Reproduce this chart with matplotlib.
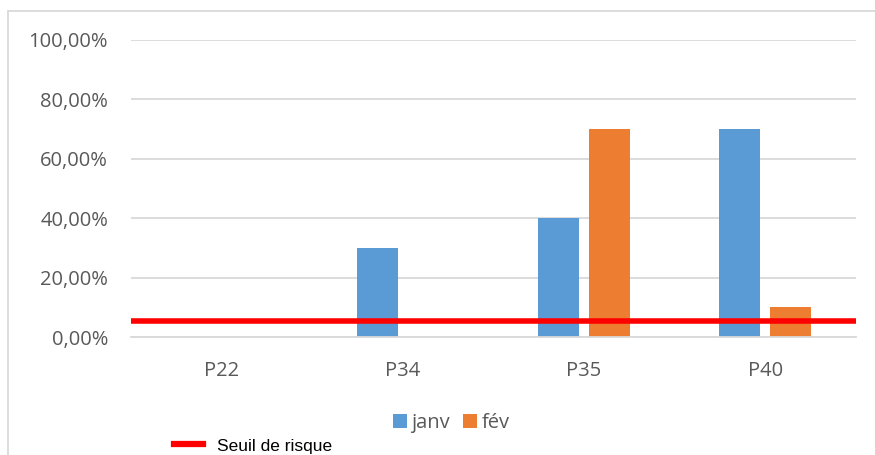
import matplotlib.pyplot as plt
import numpy as np
from matplotlib.patches import Rectangle
from matplotlib.lines import Line2D
from matplotlib.ticker import FuncFormatter

categories = ["P22", "P34", "P35", "P40"]
janv = [0.0, 0.30, 0.40, 0.70]
fev = [0.0, 0.0, 0.70, 0.10]
seuil = 0.055
yticks = [0.0, 0.2, 0.4, 0.6, 0.8, 1.0]

W, H = 875, 455
fig = plt.figure(figsize=(W / 100, H / 100), dpi=100)
plt.rcParams['font.family'] = ['Open Sans', 'DejaVu Sans']

# chart frame (cut off at right and bottom)
fig.patches.append(Rectangle((8 / W, -0.1), 2.0, 1 - 11 / H + 0.1,
                             transform=fig.transFigure, fill=False,
                             edgecolor='#d9d9d9', linewidth=1.3))

ax = fig.add_axes([131 / W, 1 - 337 / H, 725 / W, 297 / H])
x = np.arange(len(categories))
w = 0.226
off = 0.141
b1 = ax.bar(x - off, janv, w, color='#5b9bd5', label='janv')
b2 = ax.bar(x + off, fev, w, color='#ed7d31', label='fév')
ax.axhline(seuil, color='#ff0000', linewidth=4, zorder=3)

ax.set_xlim(-0.5, len(categories) - 0.5)
ax.set_ylim(0, 1)
ax.set_yticks(yticks)
ax.yaxis.set_major_formatter(FuncFormatter(lambda v, p: f"{v*100:.2f}%".replace('.', ',')))
ax.set_xticks(x)
ax.set_xticklabels(categories)
ax.grid(axis='y', color='#d9d9d9', linewidth=1.3)
ax.set_axisbelow(True)
for s in ['top', 'right', 'left']:
    ax.spines[s].set_visible(False)
ax.spines['bottom'].set_color('#d9d9d9')
ax.spines['bottom'].set_linewidth(1.3)
ax.tick_params(axis='both', length=0, labelsize=14.5, labelcolor='#595959')
ax.tick_params(axis='y', pad=16.5)
ax.tick_params(axis='x', pad=17)

fig.legend(handles=[b1, b2], loc='center', bbox_to_anchor=(451 / W, 1 - 423 / H),
           ncol=2, frameon=False, fontsize=14.5, labelcolor='#595959', borderpad=0,
           handlelength=0.7, handleheight=0.7, handletextpad=0.2, columnspacing=0.7)

fig.legend(handles=[Line2D([], [], color='#ff0000', linewidth=4.5)], labels=['Seuil de risque'],
           loc='center left', bbox_to_anchor=(165 / W, 1 - 446 / H), frameon=False, borderpad=0,
           prop={'family': 'Liberation Sans', 'size': 12.5}, handlelength=1.67, handletextpad=0.85)

fig.savefig('out.png', dpi=100)
